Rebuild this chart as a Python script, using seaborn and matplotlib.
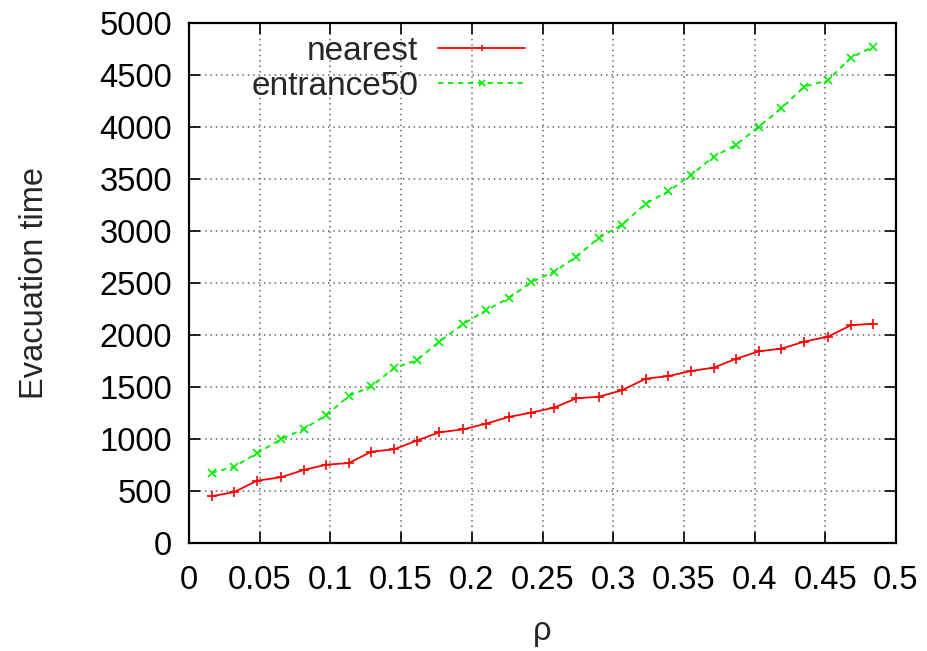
import matplotlib
matplotlib.use("Agg")
import matplotlib.pyplot as plt
import seaborn as sns
import pandas as pd

# density values and measured evacuation times
rho = [0.016, 0.032, 0.048, 0.065, 0.081, 0.097, 0.113, 0.129, 0.145, 0.161,
       0.177, 0.194, 0.210, 0.226, 0.242, 0.258, 0.274, 0.290, 0.306, 0.323,
       0.339, 0.355, 0.371, 0.387, 0.403, 0.419, 0.435, 0.452, 0.468, 0.484]
nearest = [449, 490, 599, 632, 702, 753, 769, 878, 901, 984,
           1064, 1093, 1147, 1212, 1253, 1301, 1391, 1407, 1468, 1580,
           1605, 1654, 1686, 1772, 1843, 1869, 1936, 1984, 2093, 2109]
entrance50 = [673, 734, 862, 997, 1096, 1228, 1413, 1506, 1683, 1756,
              1936, 2106, 2237, 2353, 2507, 2609, 2753, 2936, 3058, 3263,
              3382, 3537, 3715, 3830, 4003, 4180, 4388, 4449, 4667, 4772]

x_ticks = [0, 0.05, 0.1, 0.15, 0.2, 0.25, 0.3, 0.35, 0.4, 0.45, 0.5]
x_tick_labels = ["0", "0.05", "0.1", "0.15", "0.2", "0.25", "0.3", "0.35", "0.4", "0.45", "0.5"]
y_ticks = [0, 500, 1000, 1500, 2000, 2500, 3000, 3500, 4000, 4500, 5000]

df_near = pd.DataFrame({"rho": rho, "time": nearest})
df_ent = pd.DataFrame({"rho": rho, "time": entrance50})

sns.set_theme(style="white")
plt.rcParams["font.family"] = ["Liberation Sans", "DejaVu Sans"]
plt.rcParams["font.size"] = 23.5

fig = plt.figure(figsize=(9.28, 6.51), dpi=100)
ax = fig.add_axes([189 / 928, 1 - 543 / 651, (896 - 189) / 928, (543 - 23) / 651])

red = "#ff0000"
green = "#00ee00"
sns.lineplot(data=df_near, x="rho", y="time", ax=ax, color=red,
             linewidth=1.3, marker="+", markersize=6.5, markeredgewidth=1.2,
             markeredgecolor=red, label="nearest")
sns.lineplot(data=df_ent, x="rho", y="time", ax=ax, color=green,
             linewidth=1.3, linestyle=(0, (3, 2.5)), marker="x", markersize=5.5,
             markeredgewidth=1.2, markeredgecolor=green, label="entrance50")

ax.set_xlim(0, 0.5)
ax.set_ylim(0, 5000)
ax.set_xticks(x_ticks)
ax.set_xticklabels(x_tick_labels)
ax.set_yticks(y_ticks)
ax.set_yticklabels([str(v) for v in y_ticks])

ax.grid(True, color="#666666", linestyle=(0, (1, 2.5)), linewidth=1.1)
ax.tick_params(axis="both", which="major", direction="in", length=8, width=1.2,
               top=True, right=True, bottom=True, left=True,
               labelsize=23.5, colors="black", pad=12)
ax.tick_params(axis="x", pad=16)
for s in ax.spines.values():
    s.set_color("black")
    s.set_linewidth(1.6)

ax.set_xlabel("ρ", fontsize=23.5, labelpad=14)
ax.set_ylabel("Evacuation time", fontsize=23.5, labelpad=36)

leg = ax.legend(loc="upper right", bbox_to_anchor=(525 / 928, 1 - 36 / 651),
                bbox_transform=fig.transFigure, frameon=False, markerfirst=False,
                fontsize=24, handlelength=2.6, handletextpad=0.6,
                labelspacing=0.12, borderpad=0, borderaxespad=0)
for h in leg.legend_handles:
    h.set_markersize(4)

fig.savefig("out.png", dpi=100)
